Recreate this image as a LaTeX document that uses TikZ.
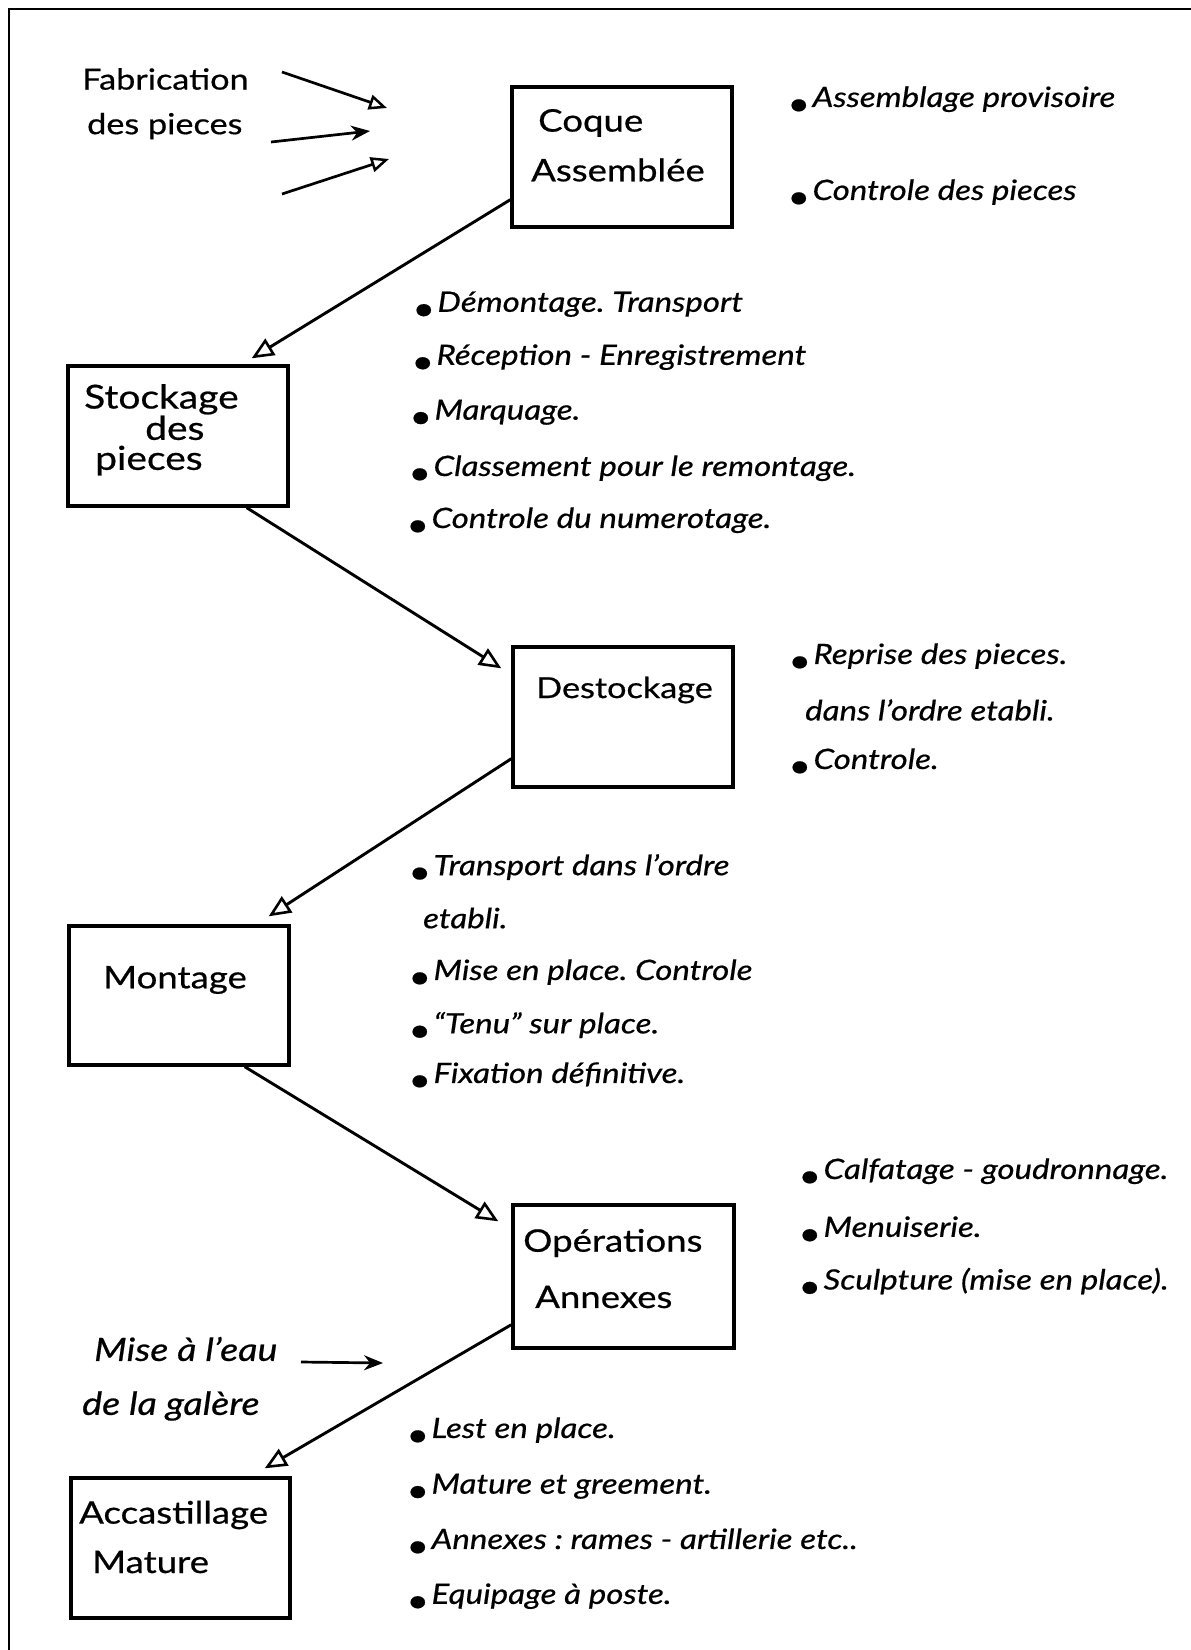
\documentclass[tikz,border=0pt]{standalone}
\usepackage{fontspec}
\setmainfont{Lato}[FakeStretch=1.18,FakeBold=0.6]
\usetikzlibrary{arrows.meta}
\frenchspacing
\newcommand\bul{\raisebox{-0.24em}{\upshape\bfseries •}\hspace{0.15em}}
\tikzset{
  box/.style={draw, line width=3.4pt, inner sep=0pt},
  lbl/.style={anchor=west, inner sep=0pt, font=\fontsize{31}{36}\selectfont},
  itm/.style={anchor=west, inner sep=0pt, font=\fontsize{28}{33}\selectfont\itshape},
  link/.style={line width=2.9pt, -{Triangle[open,length=22pt,width=19pt,line width=2.6pt]}},
  feed/.style={line width=2.7pt, -{Stealth[length=19pt,width=15pt]}},
  feedo/.style={line width=2.7pt, -{Triangle[open,length=18pt,width=15pt,line width=2.5pt]}},
}
\begin{document}
\begin{tikzpicture}[x=1pt,y=-1pt]
\useasboundingbox (0,0) rectangle (1191,1650);
% frame
\draw[line width=2.5pt] (9,1650) -- (9,9) -- (1191,9);

% boxes
\node[box, minimum width=220pt, minimum height=140pt] (coque) at (622,157) {};
\node[box, minimum width=220pt, minimum height=140pt] (stock) at (178,436) {};
\node[box, minimum width=220pt, minimum height=140pt] (destock) at (623,717) {};
\node[box, minimum width=220pt, minimum height=139pt] (mont) at (179,995.5) {};
\node[box, minimum width=221pt, minimum height=143pt] (ops) at (623.5,1276.5) {};
\node[box, minimum width=219pt, minimum height=140pt] (acc) at (180.5,1548) {};

% box labels
\node[lbl] (coque1) at (538,123) {Coque};
\node[lbl] (coque2) at (531,170) {Assemblée};
\node[lbl, align=left, anchor=north west, font=\fontsize{33}{30}\selectfont] (stock1) at (84,384)
  {Stockage\\\hspace*{61pt}des\\\hspace*{11pt}pieces};
\node[lbl, font=\fontsize{29}{34}\selectfont] (destock1) at (536,690) {Destockage};
\node[lbl] (mont1) at (103,980) {Montage};
\node[lbl] (ops1) at (523,1243) {Opérations};
\node[lbl] (ops2) at (535,1297) {Annexes};
\node[lbl] (acc1) at (79,1515) {Accastillage};
\node[lbl] (acc2) at (92,1562) {Mature};

% side texts
\node[lbl, font=\fontsize{29}{34}\selectfont] (fab1) at (82,79) {Fabrication};
\node[lbl, font=\fontsize{29}{34}\selectfont] (fab2) at (87,126) {des pieces};
\node[lbl, font=\fontsize{32}{38}\selectfont\itshape] (eau1) at (94,1349) {Mise à l’eau};
\node[lbl, font=\fontsize{32}{38}\selectfont\itshape] (eau2) at (82,1406) {de la galère};

% lists
\node[itm] (a1) at (789,100) {\bul Assemblage provisoire};
\node[itm] (a2) at (789,193) {\bul Controle des pieces};

\node[itm] (b1) at (414,305) {\bul Démontage. Transport};
\node[itm] (b2) at (413,358) {\bul Réception - Enregistrement};
\node[itm] (b3) at (411,413) {\bul Marquage.};
\node[itm] (b4) at (410,469) {\bul Classement pour le remontage.};
\node[itm] (b5) at (408,521) {\bul Controle du numerotage.};

\node[itm] (c1) at (790,657) {\bul Reprise des pieces.};
\node[itm] (c2) at (805,710) {dans l’ordre etabli.};
\node[itm] (c3) at (790,762) {\bul Controle.};

\node[itm] (d1) at (410,868) {\bul Transport dans l’ordre};
\node[itm] (d2) at (423,918) {etabli.};
\node[itm] (d3) at (410,973) {\bul Mise en place. Controle};
\node[itm] (d4) at (410,1026) {\bul “Tenu” sur place.};
\node[itm] (d5) at (410,1076) {\bul Fixation définitive.};

\node[itm] (e1) at (800,1172) {\bul Calfatage - goudronnage.};
\node[itm] (e2) at (800,1230) {\bul Menuiserie.};
\node[itm] (e3) at (800,1282) {\bul Sculpture (mise en place).};

\node[itm] (f1) at (408,1431) {\bul Lest en place.};
\node[itm] (f2) at (408,1487) {\bul Mature et greement.};
\node[itm] (f3) at (408,1542) {\bul Annexes : rames - artillerie etc..};
\node[itm] (f4) at (408,1597) {\bul Equipage à poste.};

% main flow
\draw[link] ([yshift=29pt]coque.south west) -- ([xshift=-38pt,yshift=6pt]stock.north east);
\draw[link] ([xshift=-43pt]stock.south east) -- ([xshift=-10pt,yshift=-23pt]destock.north west);
\draw[link] ([yshift=30pt]destock.south west) -- ([xshift=-22pt,yshift=8pt]mont.north east);
\draw[link] ([xshift=-46pt]mont.south east) -- ([xshift=-13pt,yshift=-18pt]ops.north west);
\draw[link] ([yshift=25pt]ops.south west) -- ([xshift=-27pt,yshift=8pt]acc.north east);

% feed arrows
\coordinate (p1s) at (282,72);  \coordinate (p1e) at (387,108);
\coordinate (p2s) at (271,142); \coordinate (p2e) at (370,131);
\coordinate (p3s) at (282,194); \coordinate (p3e) at (389,159);
\coordinate (q1s) at (301,1362); \coordinate (q1e) at (383,1363);
\draw[feedo] (p1s) -- (p1e);
\draw[feed] (p2s) -- (p2e);
\draw[feedo] (p3s) -- (p3e);
\draw[feed] (q1s) -- (q1e);
\end{tikzpicture}
\end{document}
